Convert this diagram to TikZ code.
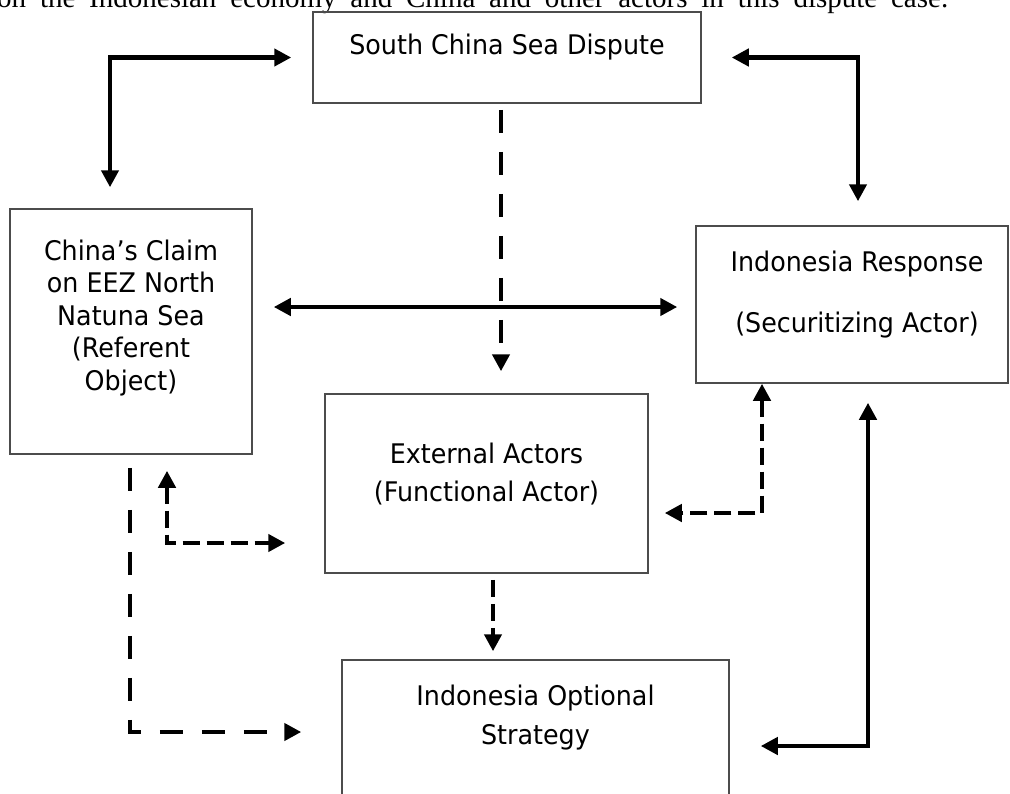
\documentclass[tikz,border=0pt]{standalone}
\usepackage{fontspec}
\setmainfont{DejaVu Sans}[FakeStretch=0.94]
\newfontfamily\capfont{Liberation Serif}
\usetikzlibrary{arrows.meta}

\tikzset{
  box/.style={draw=black!70,line width=1.5pt,inner sep=0pt},
  boxtext/.style={align=center,font=\fontsize{27}{32.5}\selectfont},
  solidline/.style={line width=4.5pt},
  longdashes/.style={line width=4.5pt,dash pattern=on 23pt off 19pt},
  shortdashes/.style={line width=4.5pt,dash pattern=on 17pt off 7pt}
}

\begin{document}
\begin{tikzpicture}[x=1pt,y=-1pt,>={Triangle[length=17pt,width=17pt]}]
\useasboundingbox (0,0) rectangle (1010,793);

% {caption line, cut at the top};
\node[anchor=base west,inner sep=0pt,font=\capfont\fontsize{29}{34}\selectfont] (caption) at (-3,7)
  {\makebox[951pt][s]{on the Indonesian economy and China and other actors in this dispute case.}};

% {Boxes};
\begin{scope}
\node[box,minimum width=388pt,minimum height=91pt] (dispute) at (507,57.5) {};
\node[box,minimum width=242pt,minimum height=245pt] (claim) at (131,331.5) {};
\node[box,minimum width=312pt,minimum height=157pt] (response) at (852,304.5) {};
\node[box,minimum width=323pt,minimum height=179pt] (external) at (486.5,483.5) {};
\node[box,minimum width=387pt,minimum height=160pt] (strategy) at (535.5,740) {};

\node[boxtext] (dispute-t) at (507,47) {South China Sea Dispute};
\node[boxtext] (claim-t) at (131,318) {China’s Claim\\on EEZ North\\Natuna Sea\\(Referent\\Object)};
\node[boxtext] (response-t) at (857,294.5) {Indonesia Response\\[28.5pt](Securitizing Actor)};
\node[boxtext] (external-t) at (486.5,474) {External Actors\\[5.5pt](Functional Actor)};
\node[boxtext] (strategy-t) at (535.5,717.5) {Indonesia Optional\\[6.5pt]Strategy};
\end{scope}

% {rails of the connectors};
\coordinate (topleft) at (110,57);
\coordinate (topright) at (858,58);
\coordinate (midrail) at (501,0);
\coordinate (midlevel) at (0,307);
\coordinate (respdash) at (762,513);
\coordinate (innerdash) at (167,543);
\coordinate (outerdash) at (130,732);
\coordinate (extdash) at (493,0);
\coordinate (rightrail) at (868,746);

% {solid connectors};
\draw[solidline,<->,shorten <=21pt,shorten >=21pt] (claim.north -| topleft) |- (dispute.west);
\draw[solidline,<->,shorten <=30pt,shorten >=24pt] (dispute.east) -| (response.north -| topright);
\draw[solidline,<->,shorten <=21pt,shorten >=18pt] (claim.east |- midlevel) -- (response.west |- midlevel);
\draw[solidline,<->,shorten <=19pt,shorten >=31pt] (response.south -| rightrail) |- (strategy.east |- rightrail);

% {dashed connectors};
\draw[longdashes,->,shorten <=6pt,shorten >=22pt] (dispute.south -| midrail) -- (external.north -| midrail);
\draw[longdashes,->,shorten <=13pt,shorten >=40pt] (claim.south -| outerdash) |- (strategy.west |- outerdash);
\draw[shortdashes,<->,shorten <=16pt,shorten >=39pt] (claim.south -| innerdash) |- (external.west |- innerdash);
\draw[shortdashes,<->,shorten <=0pt,shorten >=16pt] (response.south -| respdash) |- (external.east |- respdash);
\draw[shortdashes,->,shorten <=6pt,shorten >=8pt] (external.south -| extdash) -- (strategy.north -| extdash);

\end{tikzpicture}
\end{document}
